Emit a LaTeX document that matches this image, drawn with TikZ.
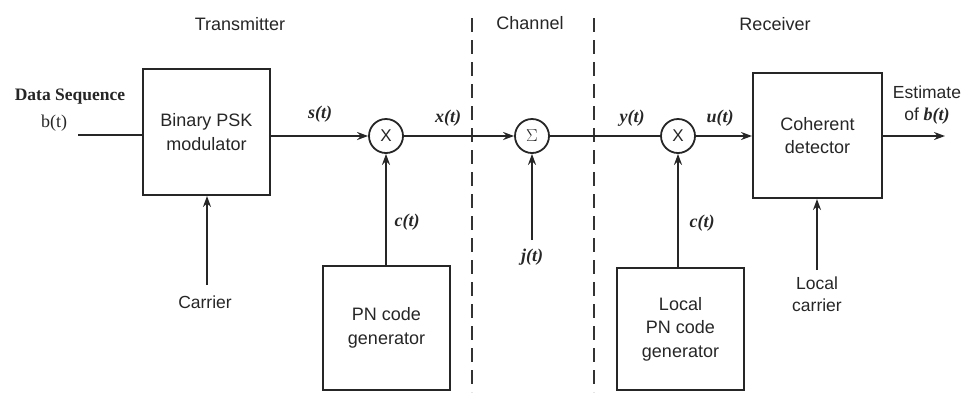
\documentclass[tikz,border=0pt]{standalone}
\usepackage{fontspec}
\setmainfont{Liberation Sans}
\newfontfamily\serifbold{Liberation Serif}[BoldFont={* Bold}]
\newfontfamily\sigfont{Liberation Serif}[UprightFont={* Bold Italic}]
\usetikzlibrary{arrows.meta}
\begin{document}
\begin{tikzpicture}[x=1pt,y=-1pt,
  every node/.style={text=black!85},
  wire/.style={line width=2pt,draw=black!85},
  arr/.style={wire,-{Stealth[length=11pt,width=8pt]}},
  blockbox/.style={draw=black!85,line width=2pt,rectangle,align=center,inner sep=0pt,
    font=\fontsize{18}{23.5}\selectfont},
  mixer/.style={draw=black!85,line width=1.8pt,circle,minimum size=34pt,inner sep=0pt,
    font=\fontsize{17}{18}\selectfont},
  lbl/.style={font=\fontsize{17.5}{22}\selectfont,align=center,inner sep=0pt},
  head/.style={font=\fontsize{18}{22}\selectfont,inner sep=0pt},
  sig/.style={font=\sigfont\fontsize{18}{20}\selectfont,inner sep=0pt},
  divider/.style={line width=1.7pt,draw=black!80,dash pattern=on 14pt off 8pt}
]
\useasboundingbox (0,0) rectangle (961,392);

% blocks
\node[blockbox,minimum width=127pt,minimum height=126pt] (psk) at (206.5,132) {Binary PSK\\modulator};
\node[blockbox,minimum width=127pt,minimum height=124pt] (pn) at (386.5,328) {PN code\\generator};
\node[blockbox,minimum width=127pt,minimum height=122pt] (lpn) at (680.5,329) {Local\\PN code\\generator};
\node[blockbox,minimum width=129pt,minimum height=125pt] (det) at (817.5,135.5) {Coherent\\detector};

\node[mixer] (m1) at (386,136) {X};
\node[mixer] (sum) at (532,136) {$\Sigma$};
\node[mixer] (m2) at (678,136) {X};

% free ends
\coordinate (din) at (78,135);
\coordinate (car) at (207,285);
\coordinate (jin) at (532,240);
\coordinate (lcar) at (817,270);
\coordinate (out) at (945,136);

% dividers
\coordinate (d1t) at (472,18); \coordinate (d1b) at (472,392);
\coordinate (d2t) at (594,18); \coordinate (d2b) at (594,392);
\draw[divider] (d1t) -- (d1b);
\draw[divider] (d2t) -- (d2b);

% connectors
\draw[wire] (din) -- (psk.west |- din);
\draw[arr] (car) -- (psk.south -| car);
\draw[arr] (psk.east |- m1) -- (m1.west);
\draw[arr] (pn.north -| m1) -- (m1.south);
\draw[arr] (m1.east) -- (sum.west);
\draw[arr] (jin) -- (sum.south);
\draw[wire] (sum.east) -- (m2.west);
\draw[arr] (lpn.north -| m2) -- (m2.south);
\draw[arr] (m2.east) -- (det.west |- m2);
\draw[arr] (lcar) -- (det.south -| lcar);
\draw[arr] (det.east |- out) -- (out);

% section headings
\node[head] (htx) at (240,24) {Transmitter};
\node[head] (hch) at (530,23) {Channel};
\node[head] (hrx) at (775,24) {Receiver};

% input label
\node[font=\serifbold\bfseries\fontsize{17.5}{20}\selectfont,inner sep=0pt] (dseq) at (70,97) {Data Sequence};
\node[font=\serifbold\fontsize{18}{20}\selectfont,inner sep=0pt] (bt) at (54,123) {b(t)};

% other labels
\node[lbl] (carl) at (205,302) {Carrier};
\node[lbl] (lcarl) at (817,294) {Local\\carrier};
\node[lbl] (est) at (927,105) {Estimate\\of {\sigfont\fontsize{18}{20}\selectfont b(t)}};

% signal labels
\node[sig] (st) at (320,114) {s(t)};
\node[sig] (xt) at (448,118) {x(t)};
\node[sig] (ct1) at (407,222) {c(t)};
\node[sig] (jt) at (532,257) {j(t)};
\node[sig] (yt) at (632,118) {y(t)};
\node[sig] (ut) at (720,118) {u(t)};
\node[sig] (ct2) at (702,223) {c(t)};
\end{tikzpicture}
\end{document}
